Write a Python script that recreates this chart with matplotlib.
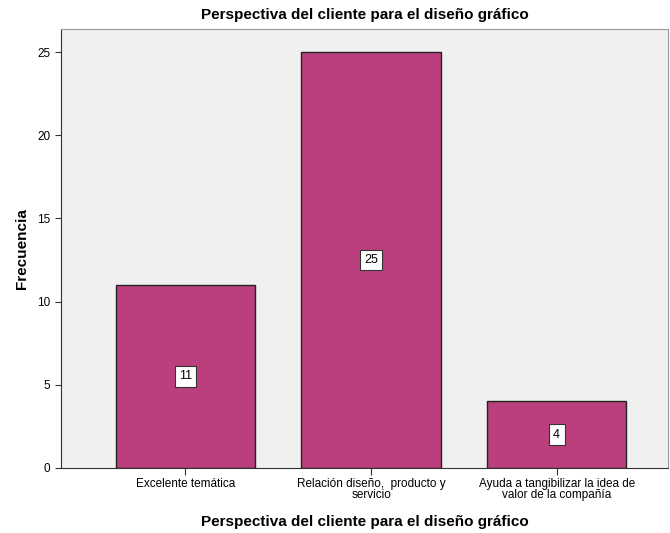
import matplotlib
matplotlib.use("Agg")
import matplotlib.pyplot as plt

# Datos
categorias = ["Excelente temática",
              "Relación diseño,  producto y\nservicio",
              "Ayuda a tangibilizar la idea de\nvalor de la compañía"]
frecuencias = [11, 25, 4]
yticks = [0, 5, 10, 15, 20, 25]

plt.rcParams['font.family'] = ['Liberation Sans', 'DejaVu Sans']

fig = plt.figure(figsize=(6.7, 5.33), dpi=100)
ax = fig.add_axes([0.091, 0.122, 0.906, 0.824])
ax.set_facecolor("#F0F0F0")

x = range(len(categorias))
ax.bar(x, frecuencias, width=0.752, color="#BC3F7D", edgecolor="#222222", linewidth=1, zorder=2)

for i, v in zip(x, frecuencias):
    ax.text(i, v / 2, str(v), ha="center", va="center", fontsize=9,
            bbox=dict(boxstyle="square,pad=0.35", fc="white", ec="#333333", lw=0.8), zorder=3)

ax.set_xlim(-0.671, 2.6)
ax.set_ylim(0, 26.4)
ax.set_yticks(yticks)
ax.set_xticks(list(x))
ax.set_xticklabels(categorias, fontsize=8.5, linespacing=0.95)
ax.tick_params(axis="y", labelsize=8.5, length=4, color="#333333")
ax.tick_params(axis="x", length=5, color="#333333", pad=2)

for s in ["top", "right"]:
    ax.spines[s].set_color("#999999")
for s in ["left", "bottom"]:
    ax.spines[s].set_color("#333333")

ax.set_title("Perspectiva del cliente para el diseño gráfico", fontsize=11, fontweight="bold", pad=7)
ax.set_xlabel("Perspectiva del cliente para el diseño gráfico", fontsize=11, fontweight="bold", labelpad=10)
ax.set_ylabel("Frecuencia", fontsize=11, fontweight="bold", labelpad=6)

fig.savefig("out.png", dpi=100)
